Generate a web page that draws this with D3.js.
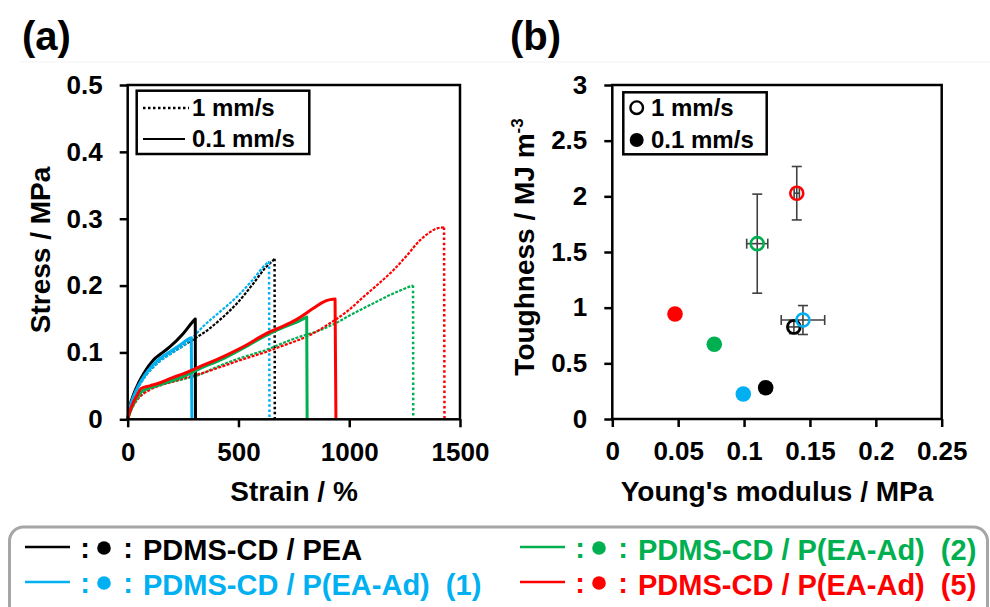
<!DOCTYPE html>
<html>
<head>
<meta charset="utf-8">
<script src="https://cdn.jsdelivr.net/npm/d3@7"></script>
<style>
  html, body { margin: 0; padding: 0; background: #fff; }
  svg { display: block; }
  text { font-family: "Liberation Sans", Arial, sans-serif; font-weight: bold; }
</style>
</head>
<body>
<svg id="chart" width="990" height="607"></svg>
<script>
// ---- (a) stress–strain curves, strain in %, stress in MPa ----
// 0.1 mm/s (solid); last point of each array is the break (stress falls to 0)
const peaStrainSlow   = [0, 10, 25, 50, 75, 116, 150, 191, 250, 299, 305, 306];
const peaStressSlow   = [0, 0.020, 0.036, 0.055, 0.070, 0.0887, 0.098, 0.1086, 0.128, 0.148, 0.150, 0];
const ad1StrainSlow   = [0, 10, 25, 50, 75, 116, 150, 191, 240, 274, 287, 290];
const ad1StressSlow   = [0, 0.018, 0.033, 0.051, 0.065, 0.082, 0.092, 0.101, 0.112, 0.120, 0.122, 0];
const ad2StrainSlow   = [0, 10, 25, 45, 65, 100, 150, 200, 250, 326, 439, 530, 627, 700, 760, 805, 808, 810];
const ad2StressSlow   = [0, 0.010, 0.022, 0.033, 0.042, 0.047, 0.052, 0.058, 0.064, 0.0757, 0.092, 0.108, 0.126, 0.137, 0.145, 0.1525, 0.153, 0];
const ad5StrainSlow   = [0, 10, 25, 45, 60, 100, 150, 200, 250, 326, 439, 530, 627, 700, 755, 838, 880, 913, 936, 940];
const ad5StressSlow   = [0, 0.012, 0.025, 0.038, 0.046, 0.050, 0.055, 0.062, 0.068, 0.0787, 0.095, 0.110, 0.1286, 0.139, 0.148, 0.166, 0.175, 0.179, 0.180, 0];
// 1 mm/s (dotted)
const peaStrainFast   = [0, 10, 25, 50, 75, 116, 150, 191, 250, 304, 350, 417, 492, 567, 620, 657, 663, 664];
const peaStressFast   = [0, 0.018, 0.033, 0.050, 0.063, 0.079, 0.089, 0.098, 0.110, 0.121, 0.131, 0.149, 0.173, 0.203, 0.226, 0.238, 0.240, 0];
const ad1StrainFast   = [0, 10, 25, 50, 75, 116, 150, 191, 250, 289, 341, 417, 492, 560, 627, 638, 640];
const ad1StressFast   = [0, 0.017, 0.032, 0.049, 0.062, 0.078, 0.088, 0.097, 0.110, 0.121, 0.139, 0.161, 0.183, 0.207, 0.233, 0.236, 0];
const ad2StrainFast   = [0, 10, 30, 63, 100, 138, 200, 251, 326, 400, 477, 560, 627, 700, 778, 850, 943, 1000, 1064, 1130, 1184, 1240, 1282, 1288, 1289];
const ad2StressFast   = [0, 0.012, 0.025, 0.038, 0.046, 0.051, 0.056, 0.060, 0.067, 0.078, 0.088, 0.097, 0.104, 0.114, 0.1236, 0.131, 0.1445, 0.155, 0.166, 0.177, 0.186, 0.194, 0.1995, 0.200, 0];
const ad5StrainFast   = [0, 10, 25, 45, 70, 100, 150, 200, 260, 326, 400, 477, 560, 627, 687, 750, 808, 913, 1000, 1064, 1130, 1199, 1260, 1320, 1365, 1400, 1428, 1430];
const ad5StressFast   = [0, 0.010, 0.020, 0.030, 0.038, 0.044, 0.051, 0.056, 0.062, 0.068, 0.076, 0.085, 0.094, 0.101, 0.1086, 0.116, 0.1236, 0.1436, 0.164, 0.183, 0.202, 0.223, 0.245, 0.268, 0.280, 0.286, 0.287, 0];

// ---- (b) toughness vs Young's modulus ----
const sampleNames   = ["PDMS-CD / PEA", "PDMS-CD / P(EA-Ad)  (1)", "PDMS-CD / P(EA-Ad)  (2)", "PDMS-CD / P(EA-Ad)  (5)"];
const sampleColors  = ["#000000", "#00b0f0", "#00b050", "#ff0000"];
const modulusSlow   = [0.1164, 0.0994, 0.0774, 0.0476];
const toughnessSlow = [0.281, 0.225, 0.671, 0.943];
const modulusFast   = [0.1378, 0.1447, 0.110, 0.140];
const toughnessFast = [0.827, 0.889, 1.575, 2.028];
const modulusErr    = [0.004, 0.0165, 0.008, 0.002];
const toughnessErr  = [0.06, 0.13, 0.445, 0.24];

const strainTicks    = [0, 500, 1000, 1500];
const stressTicks    = [0, 0.1, 0.2, 0.3, 0.4, 0.5];
const modulusTicks   = [0, 0.05, 0.1, 0.15, 0.2, 0.25];
const toughnessTicks = [0, 0.5, 1, 1.5, 2, 2.5, 3];

const svg = d3.select("#chart");

// faint separator under the panel letters
svg.append("line").attr("x1", 20).attr("x2", 990).attr("y1", 62).attr("y2", 62)
  .attr("stroke", "#f3f3f3").attr("stroke-width", 1);

// panel letters
svg.append("text").attr("x", 22).attr("y", 50).attr("font-size", 40).text("(a)");
svg.append("text").attr("x", 510).attr("y", 50).attr("font-size", 40).text("(b)");

function frame(x, y) {
  const [x0, x1] = x.range(), [y0, y1] = y.range();
  svg.append("rect").attr("x", x0).attr("y", y1).attr("width", x1 - x0).attr("height", y0 - y1)
    .attr("fill", "none").attr("stroke", "#000").attr("stroke-width", 2.5);
}
function axes(x, y, xt, yt, xfmt, yfmt) {
  const gx = svg.append("g").attr("transform", `translate(0,${y.range()[0]})`)
    .call(d3.axisBottom(x).tickValues(xt).tickFormat(xfmt).tickSize(8).tickPadding(15));
  const gy = svg.append("g").attr("transform", `translate(${x.range()[0]},0)`)
    .call(d3.axisLeft(y).tickValues(yt).tickFormat(yfmt).tickSize(8).tickPadding(17));
  [gx, gy].forEach(g => {
    g.select(".domain").remove();
    g.selectAll(".tick line").attr("stroke", "#000").attr("stroke-width", 2.5);
    g.selectAll(".tick text").attr("fill", "#000").attr("font-size", 26)
      .attr("font-family", '"Liberation Sans", Arial, sans-serif').attr("font-weight", "bold");
  });
}

// ================= (a) =================
const xa = d3.scaleLinear().domain([0, 1500]).range([127.7, 460]);
const ya = d3.scaleLinear().domain([0, 0.5]).range([419.3, 85]);

axes(xa, ya, strainTicks, stressTicks, d3.format("d"), d => d === 0 ? "0" : d3.format(".1f")(d));

const curves = [
  { s: peaStrainFast, t: peaStressFast, c: 0, fast: true },
  { s: ad1StrainFast, t: ad1StressFast, c: 1, fast: true },
  { s: ad2StrainFast, t: ad2StressFast, c: 2, fast: true },
  { s: ad5StrainFast, t: ad5StressFast, c: 3, fast: true },
  { s: peaStrainSlow, t: peaStressSlow, c: 0, fast: false },
  { s: ad1StrainSlow, t: ad1StressSlow, c: 1, fast: false },
  { s: ad2StrainSlow, t: ad2StressSlow, c: 2, fast: false },
  { s: ad5StrainSlow, t: ad5StressSlow, c: 3, fast: false }
];
const lineA = d3.line().x(d => xa(d[0])).y(d => ya(d[1])).curve(d3.curveMonotoneX);
const lineStraight = d3.line().x(d => xa(d[0])).y(d => ya(d[1]));
curves.forEach(cv => {
  const pts = cv.s.map((v, i) => [v, cv.t[i]]);
  const col = sampleColors[cv.c];
  if (cv.fast) {
    // densely sampled loading curve, then the dotted fall at break
    svg.append("path").attr("d", lineA(pts.slice(0, -1)))
      .attr("fill", "none").attr("stroke", col).attr("stroke-width", 2.2)
      .attr("stroke-dasharray", "3,1.4").attr("stroke-linejoin", "round");
    svg.append("path").attr("d", lineStraight(pts.slice(-2)))
      .attr("fill", "none").attr("stroke", col).attr("stroke-width", 2.5)
      .attr("stroke-dasharray", "2.5,2.6");
  } else {
    svg.append("path").attr("d", lineA(pts))
      .attr("fill", "none").attr("stroke", col).attr("stroke-width", 3)
      .attr("stroke-linejoin", "round");
  }
});
frame(xa, ya);

// legend (a)
const lga = svg.append("g");
lga.append("rect").attr("x", 136.7).attr("y", 90.7).attr("width", 172.6).attr("height", 63.3)
  .attr("fill", "#fff").attr("stroke", "#000").attr("stroke-width", 2.5);
lga.append("line").attr("x1", 143).attr("x2", 189).attr("y1", 108).attr("y2", 108)
  .attr("stroke", "#000").attr("stroke-width", 2.5).attr("stroke-dasharray", "2.5,2.5");
lga.append("line").attr("x1", 143).attr("x2", 185).attr("y1", 139).attr("y2", 139)
  .attr("stroke", "#000").attr("stroke-width", 2.2);
lga.append("text").attr("x", 192).attr("y", 116).attr("font-size", 24).text("1 mm/s");
lga.append("text").attr("x", 192).attr("y", 147).attr("font-size", 24).text("0.1 mm/s");

// axis titles (a)
svg.append("text").attr("x", 294).attr("y", 501).attr("text-anchor", "middle").attr("font-size", 28).text("Strain / %");
svg.append("text").attr("transform", "translate(50,250) rotate(-90)").attr("text-anchor", "middle")
  .attr("font-size", 28).text("Stress / MPa");

// ================= (b) =================
const xb = d3.scaleLinear().domain([0, 0.25]).range([612.3, 941.7]);
const yb = d3.scaleLinear().domain([0, 3]).range([419, 85]);

axes(xb, yb, modulusTicks, toughnessTicks, d => d === 0 ? "0" : String(d), d => String(d));

// error bars of the 1 mm/s points
const eb = svg.append("g").attr("stroke", "#404040").attr("stroke-width", 1.6);
modulusFast.forEach((m, i) => {
  const cx = xb(m), cy = yb(toughnessFast[i]);
  const yT = yb(toughnessFast[i] + toughnessErr[i]), yB = yb(toughnessFast[i] - toughnessErr[i]);
  const xL = xb(m - modulusErr[i]), xR = xb(m + modulusErr[i]);
  eb.append("line").attr("x1", cx).attr("x2", cx).attr("y1", yT).attr("y2", yB);
  eb.append("line").attr("x1", cx - 5).attr("x2", cx + 5).attr("y1", yT).attr("y2", yT);
  eb.append("line").attr("x1", cx - 5).attr("x2", cx + 5).attr("y1", yB).attr("y2", yB);
  eb.append("line").attr("x1", xL).attr("x2", xR).attr("y1", cy).attr("y2", cy);
  eb.append("line").attr("x1", xL).attr("x2", xL).attr("y1", cy - 5).attr("y2", cy + 5);
  eb.append("line").attr("x1", xR).attr("x2", xR).attr("y1", cy - 5).attr("y2", cy + 5);
});
// open circles: 1 mm/s
modulusFast.forEach((m, i) => {
  svg.append("circle").attr("cx", xb(m)).attr("cy", yb(toughnessFast[i])).attr("r", 6.5)
    .attr("fill", "none").attr("stroke", sampleColors[i]).attr("stroke-width", 2.6);
});
// filled circles: 0.1 mm/s
modulusSlow.forEach((m, i) => {
  svg.append("circle").attr("cx", xb(m)).attr("cy", yb(toughnessSlow[i])).attr("r", 7.8)
    .attr("fill", sampleColors[i]);
});
frame(xb, yb);

// legend (b)
const lgb = svg.append("g");
lgb.append("rect").attr("x", 623.3).attr("y", 92.3).attr("width", 143.4).attr("height", 62)
  .attr("fill", "#fff").attr("stroke", "#000").attr("stroke-width", 2.5);
lgb.append("circle").attr("cx", 636.7).attr("cy", 107.7).attr("r", 6.3)
  .attr("fill", "none").attr("stroke", "#000").attr("stroke-width", 2.4);
lgb.append("circle").attr("cx", 636.7).attr("cy", 140).attr("r", 7).attr("fill", "#000");
lgb.append("text").attr("x", 651).attr("y", 116).attr("font-size", 24).text("1 mm/s");
lgb.append("text").attr("x", 651).attr("y", 148).attr("font-size", 24).text("0.1 mm/s");

// axis titles (b)
svg.append("text").attr("x", 777).attr("y", 501).attr("text-anchor", "middle").attr("font-size", 28)
  .text("Young's modulus / MPa");
const tt = svg.append("text").attr("transform", "translate(534,247) rotate(-90)").attr("text-anchor", "middle")
  .attr("font-size", 28);
tt.append("tspan").text("Toughness / MJ m");
tt.append("tspan").attr("font-size", 17).attr("dy", -11).text("-3");

// ================= shared legend =================
svg.append("rect").attr("x", 9.5).attr("y", 527).attr("width", 978).attr("height", 110).attr("rx", 14)
  .attr("fill", "#fff").attr("stroke", "#a6a6a6").attr("stroke-width", 3);
const legendCol = [0, 0, 495, 495];
const legendRow = [0, 35, 0, 35];
sampleNames.forEach((name, i) => {
  const g = svg.append("g").attr("transform", `translate(${legendCol[i]},${legendRow[i]})`);
  g.append("line").attr("x1", 25).attr("x2", 70).attr("y1", 547).attr("y2", 547)
    .attr("stroke", sampleColors[i]).attr("stroke-width", 2.6);
  g.append("text").attr("x", 85).attr("y", 558).attr("text-anchor", "middle").attr("font-size", 29)
    .attr("fill", sampleColors[i]).text(":");
  g.append("circle").attr("cx", 104).attr("cy", 548).attr("r", 6.8).attr("fill", sampleColors[i]);
  g.append("text").attr("x", 128).attr("y", 558).attr("text-anchor", "middle").attr("font-size", 29)
    .attr("fill", sampleColors[i]).text(":");
  g.append("text").attr("x", 143).attr("y", 560).attr("font-size", 29).attr("fill", sampleColors[i])
    .style("white-space", "pre").text(name);
});
</script>
</body>
</html>
